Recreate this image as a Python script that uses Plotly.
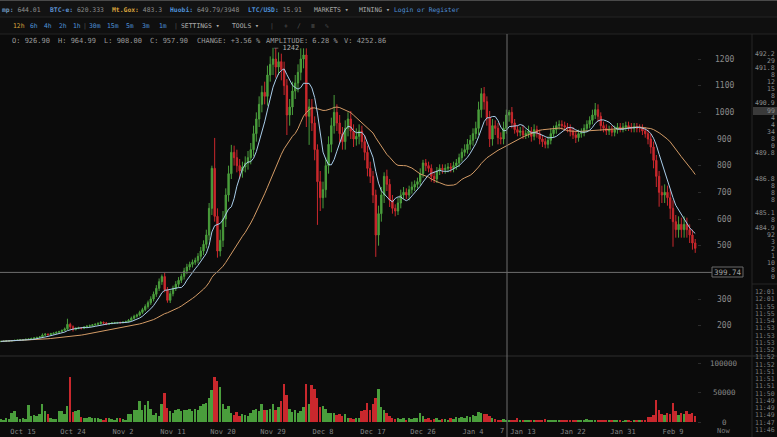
import plotly.graph_objects as go
import pandas as pd

# ---------------- data (Mt.Gox BTC/USD, 12h candles) ----------------
START = "2013-10-11 00:00"
OPEN_FIRST = 140

CLOSE = [
    141, 142, 143, 143, 144, 145, 146, 147, 147, 149,
    150, 152, 154, 156, 158, 165, 168, 166, 170, 172,
    175, 178, 182, 188, 205, 196, 186, 190, 192, 190,
    195, 198, 200, 203, 205, 208, 212, 210, 206, 208,
    210, 211, 212, 211, 213, 215, 220, 228, 235, 240,
    250, 260, 272, 286, 300, 318, 340, 365, 384, 335,
    295, 320, 340, 355, 370, 385, 405, 420, 430, 438,
    445, 460, 480, 505, 540, 640, 790, 610, 480, 520,
    600, 690, 770, 850, 830, 800, 780, 795, 810, 830,
    860, 920, 975, 1030, 1075, 1060, 1140, 1180, 1200, 1170,
    1190, 1160, 1100, 990, 1020, 1080, 1110, 1150, 1200, 1215,
    985, 1020, 960, 860, 740, 680, 710, 800, 880, 950,
    1000, 960, 920, 890, 940, 975, 930, 900, 910, 930,
    890, 850, 790, 760, 690, 540, 620, 690, 760, 730,
    670, 640, 630, 660, 690, 700, 690, 710, 720, 730,
    740, 770, 810, 800, 790, 760, 750, 780, 790, 785,
    790, 795, 790, 800, 810, 830, 850, 860, 880, 895,
    920, 940, 1010, 1070, 1040, 980, 900, 950, 940, 905,
    900, 940, 990, 1000, 960, 935, 925, 930, 915, 920,
    930, 910, 935, 920, 900, 890, 880, 895, 920, 935,
    950, 955, 950, 945, 940, 930, 915, 905, 920, 925,
    940, 955, 970, 990, 1010, 985, 950, 940, 930, 935,
    925, 935, 945, 940, 945, 950, 945, 940, 945, 940,
    940, 930, 920, 900, 870, 820, 760, 700, 690, 700,
    680, 640, 590, 560, 580, 560, 580, 560, 540, 510, 490,
]

WICK_UP = [
    2, 1, 2, 1, 2, 2, 1, 2, 2, 2,
    2, 3, 2, 2, 3, 6, 4, 3, 3, 2,
    3, 3, 4, 5, 21, 6, 5, 4, 4, 3,
    3, 3, 4, 3, 4, 5, 5, 4, 4, 3,
    3, 3, 2, 3, 3, 4, 5, 6, 6, 5,
    6, 7, 8, 8, 10, 10, 12, 12, 8, 15,
    10, 12, 10, 12, 12, 10, 12, 12, 10, 10,
    10, 12, 15, 15, 20, 20, 10, 114, 30, 40,
    30, 25, 30, 28, 25, 30, 25, 20, 25, 25,
    25, 30, 25, 30, 25, 40, 35, 30, 42, 40,
    35, 30, 30, 25, 30, 35, 30, 30, 40, 25,
    25, 30, 30, 25, 20, 40, 30, 30, 30, 30,
    65, 30, 30, 25, 30, 25, 30, 25, 30, 25,
    20, 25, 25, 25, 20, 20, 30, 30, 15, 25,
    20, 20, 15, 20, 20, 20, 15, 15, 20, 15,
    15, 20, 12, 15, 15, 15, 20, 15, 15, 15,
    15, 15, 15, 15, 15, 15, 15, 20, 20, 20,
    20, 25, 30, 21, 25, 20, 25, 25, 20, 20,
    20, 25, 20, 9, 20, 15, 15, 15, 20, 15,
    20, 15, 20, 15, 15, 15, 15, 15, 20, 15,
    15, 15, 15, 15, 15, 15, 15, 15, 15, 15,
    15, 15, 15, 20, 25, 20, 15, 15, 15, 15,
    15, 15, 15, 15, 15, 15, 15, 15, 15, 15,
    15, 15, 15, 15, 20, 20, 20, 20, 25, 30,
    25, 30, 30, 25, 30, 25, 30, 25, 20, 20, 15,
]

WICK_DN = [
    1, 2, 1, 2, 1, 1, 2, 1, 2, 1,
    2, 2, 1, 2, 2, 3, 4, 3, 2, 3,
    3, 2, 3, 3, 4, 10, 8, 4, 3, 4,
    3, 4, 3, 4, 3, 3, 4, 5, 4, 3,
    3, 2, 3, 3, 2, 3, 3, 4, 5, 5,
    5, 6, 6, 8, 8, 9, 10, 10, 12, 10,
    9, 10, 10, 10, 12, 10, 12, 12, 12, 12,
    10, 12, 12, 15, 15, 20, 25, 20, 25, 20,
    25, 30, 25, 20, 30, 25, 30, 25, 20, 25,
    25, 25, 30, 30, 30, 30, 35, 25, 40, 40,
    30, 40, 35, 75, 40, 30, 30, 35, 30, 35,
    40, 107, 30, 40, 162, 50, 40, 30, 30, 30,
    30, 30, 35, 30, 30, 30, 30, 30, 25, 30,
    25, 30, 30, 25, 30, 82, 40, 30, 30, 25,
    25, 20, 20, 15, 20, 15, 15, 20, 15, 15,
    15, 15, 15, 20, 15, 20, 15, 15, 15, 15,
    15, 15, 15, 15, 15, 15, 15, 15, 15, 20,
    20, 20, 25, 30, 30, 30, 30, 25, 25, 25,
    20, 20, 20, 25, 20, 15, 15, 15, 15, 15,
    15, 20, 15, 15, 20, 20, 15, 15, 15, 15,
    15, 15, 15, 15, 15, 20, 15, 20, 15, 15,
    15, 15, 15, 15, 15, 20, 20, 15, 15, 15,
    15, 15, 15, 15, 15, 15, 15, 15, 15, 15,
    15, 15, 15, 20, 25, 30, 40, 54, 30, 30,
    30, 40, 94, 30, 30, 30, 30, 30, 30, 25, 17,
]

VOLUME = [
    5000, 4000, 6000, 5000, 16000, 19000, 8000, 5000, 6000, 5000,
    29000, 10000, 12000, 11000, 13000, 30000, 18000, 14000, 6000, 5000,
    5000, 19000, 18000, 13000, 27000, 76000, 17000, 19000, 21000, 8000,
    6000, 7000, 8000, 6000, 7000, 6000, 5000, 4000, 7000, 6000,
    5000, 4000, 6000, 7000, 5000, 4000, 13000, 14000, 21000, 20000,
    35000, 20000, 28000, 35000, 22000, 12000, 15000, 10000, 30000, 49000,
    24000, 18000, 15000, 20000, 22000, 19000, 21000, 20000, 22000, 19000,
    22000, 20000, 27000, 30000, 33000, 40000, 55000, 76000, 70000, 60000,
    30000, 22000, 27000, 16000, 12000, 17000, 10000, 14000, 12000, 11000,
    15000, 20000, 22000, 19000, 30000, 21000, 20000, 22000, 30000, 20000,
    25000, 35000, 64000, 45000, 22000, 17000, 20000, 15000, 18000, 25000,
    64000, 30000, 62000, 56000, 40000, 25000, 27000, 22000, 15000, 16000,
    15000, 12000, 14000, 10000, 13000, 7000, 6000, 5000, 7000, 6000,
    18000, 20000, 33000, 20000, 30000, 40000, 56000, 25000, 20000, 15000,
    10000, 6000, 5000, 7000, 5000, 6000, 4000, 6000, 5000, 7000,
    6000, 15000, 10000, 5000, 6000, 4000, 5000, 6000, 4000, 5000,
    5000, 4000, 6000, 5000, 8000, 6000, 9000, 7000, 10000, 8000,
    12000, 10000, 17000, 15000, 13000, 14000, 10000, 6000, 5000, 4000,
    4000, 5000, 4000, 3000, 4000, 3000, 6000, 3000, 2000, 4000,
    3000, 2000, 4000, 3000, 2000, 3000, 5000, 3000, 2000, 3000,
    3000, 2000, 3000, 4000, 2000, 3000, 2000, 3000, 4000, 3000,
    3000, 5000, 4000, 3000, 2000, 3000, 2000, 3000, 2000, 3000,
    2000, 2000, 3000, 2000, 1500, 2000, 2000, 1500, 2000, 2000,
    2000, 3000, 4000, 9000, 8000, 12000, 37000, 20000, 14000, 12000,
    15000, 13000, 32000, 19000, 12000, 16000, 14000, 18000, 13000, 15000, 10000,
]

PRICE_TICKS = [200, 300, 500, 600, 700, 800, 900, 1000, 1100, 1200]
VOLUME_TICKS = [0, 50000, 100000]
CROSSHAIR_PRICE = 399.74
MA_FAST, MA_SLOW = 7, 30

TICKER_ROW = [("mp:", "644.01", "#6f95bd"), ("BTC-e:", "620.333", "#5b8fcf"),
              ("Mt.Gox:", "483.3", "#d9a23c"), ("Huobi:", "649.79/3948", "#4d8fd6"),
              ("LTC/USD:", "15.91", "#4d8fd6")]
TICKER_X = [0, 48, 110, 168, 246]
MENU_ROW = [("MARKETS ▾", 312, "#a8a8a8"), ("MINING ▾", 357, "#a8a8a8"),
            ("Login or Register", 392, "#4f8fd6")]
PERIODS = ["12h", "6h", "4h", "2h", "1h", "|", "30m", "15m", "5m", "3m", "1m", "|",
           "SETTINGS ▾", "TOOLS ▾", "|", "+", "/", "≡", "✎"]
PERIOD_X = [11, 28, 42, 57, 71, 81, 87, 105, 124, 140, 157, 172, 179, 230, 268, 282, 295, 309, 323]
OHLC_INFO = ["O: 926.90", "H: 964.99", "L: 908.00", "C: 957.90",
             "CHANGE: +3.56 %", "AMPLITUDE: 6.28 %", "V: 4252.86"]
OHLC_X = [10, 56, 102, 148, 195, 264, 342]
BOOK = [("492.2", 54), ("29", 61), ("491.8", 68), ("8", 75), ("12", 82), ("15", 89),
        ("8", 96), ("490.9", 103), ("99", 111), ("4", 118), ("4", 125), ("34", 132),
        ("8", 139), ("0", 146), ("489.8", 153), ("486.8", 179), ("8", 186), ("8", 193),
        ("8", 200), ("485.1", 213), ("8", 220), ("484.9", 228), ("92", 235), ("3", 242),
        ("2", 249), ("1", 256), ("10", 263), ("8", 270), ("0", 277)]
TRADE_TIMES = ["12:01", "12:01", "11:55", "11:55", "11:54", "11:53", "11:53", "11:53",
               "11:52", "11:52", "11:52", "11:51", "11:51", "11:51", "11:50", "11:49",
               "11:49", "11:49", "11:47", "11:46"]

# ---------------- styling ----------------
W, H = 777, 437
ML, MR, MT, MB = 0, 80, 35, 15
PW, PH = W - ML - MR, H - MT - MB
BG = "#0b0b0b"
GREEN, RED = "#4a9e3c", "#c9282d"
BLUE_MA, ORANGE_MA = "#a9cdea", "#d39b66"
MONO = "DejaVu Sans Mono"
GREY = "#8c8c8c"
AXIS_LABEL_X = 724


def px(x):
    return (x - ML) / PW


def py(y):
    return (H - MB - y) / PH


dates = pd.date_range(START, periods=len(CLOSE), freq="12h")
opens = [OPEN_FIRST] + CLOSE[:-1]
highs = [max(o, c) + u for o, c, u in zip(opens, CLOSE, WICK_UP)]
lows = [min(o, c) - d for o, c, d in zip(opens, CLOSE, WICK_DN)]
bar_colors = [GREEN if c >= o else RED for o, c in zip(opens, CLOSE)]
closes = pd.Series(CLOSE, dtype=float)
ma_fast = closes.rolling(MA_FAST, min_periods=1).mean()
ma_slow = closes.rolling(MA_SLOW, min_periods=1).mean()

px_per_day = 650 / 117.0
x0 = pd.Timestamp("2013-10-15") - pd.Timedelta(days=23 / px_per_day)
x1 = x0 + pd.Timedelta(days=PW / px_per_day)

fig = go.Figure()
fig.add_trace(go.Candlestick(
    x=dates, open=opens, high=highs, low=lows, close=CLOSE,
    increasing=dict(line=dict(color=GREEN, width=1), fillcolor=GREEN),
    decreasing=dict(line=dict(color=RED, width=1), fillcolor=RED),
    whiskerwidth=0, showlegend=False, xaxis="x", yaxis="y"))
fig.add_trace(go.Scatter(x=dates, y=ma_slow, mode="lines", line=dict(color=ORANGE_MA, width=1),
                         showlegend=False, xaxis="x", yaxis="y"))
fig.add_trace(go.Scatter(x=dates, y=ma_fast, mode="lines", line=dict(color=BLUE_MA, width=1),
                         showlegend=False, xaxis="x", yaxis="y"))
fig.add_trace(go.Bar(x=dates, y=VOLUME, marker=dict(color=bar_colors, line=dict(width=0)),
                     width=0.7 * 12 * 3600 * 1000, showlegend=False, xaxis="x2", yaxis="y2"))

axis_common = dict(showgrid=False, zeroline=False, showline=False, fixedrange=True)
fig.update_layout(
    width=W, height=H, autosize=False,
    margin=dict(l=ML, r=MR, t=MT, b=MB, pad=0),
    paper_bgcolor=BG, plot_bgcolor=BG,
    font=dict(family=MONO, color=GREY),
    bargap=0,
    xaxis=dict(domain=[0, 1], anchor="y", range=[x0, x1], type="date", matches="x2",
               showticklabels=False, ticks="", rangeslider=dict(visible=False), **axis_common),
    xaxis2=dict(domain=[0, 1], anchor="y2", range=[x0, x1], type="date",
                tick0="2013-10-15", dtick=9 * 86400000, tickformat="%b %-d",
                ticks="outside", ticklen=3, tickcolor=BG,
                tickfont=dict(family=MONO, size=7, color="#858585"), **axis_common),
    yaxis=dict(domain=[py(355), 1], anchor="x", side="right", range=[90, 1290],
               tickvals=PRICE_TICKS, showticklabels=False,
               ticks="outside", ticklen=3, tickcolor="#2c2c2c", **axis_common),
    yaxis2=dict(domain=[0, py(357)], anchor="x2", side="right", range=[0, 110200],
                tickvals=VOLUME_TICKS, showticklabels=False,
                ticks="outside", ticklen=3, tickcolor="#2c2c2c", **axis_common),
)

shapes = [
    # header bars
    dict(type="rect", xref="paper", yref="paper", x0=px(0), x1=px(W), y0=py(17), y1=py(0),
         fillcolor="#131313", line=dict(width=0), layer="below"),
    dict(type="rect", xref="paper", yref="paper", x0=px(0), x1=px(W), y0=py(34), y1=py(17),
         fillcolor="#0f0f0f", line=dict(width=0), layer="below"),
    dict(type="line", xref="paper", yref="paper", x0=px(0), x1=px(W), y0=py(0.5), y1=py(0.5),
         line=dict(color="#4a4a4a", width=1)),
    dict(type="line", xref="paper", yref="paper", x0=px(0), x1=px(W), y0=py(17), y1=py(17),
         line=dict(color="#242424", width=1)),
    dict(type="line", xref="paper", yref="paper", x0=px(0), x1=px(W), y0=py(34), y1=py(34),
         line=dict(color="#242424", width=1)),
    # pane separator
    dict(type="line", xref="paper", yref="paper", x0=px(0), x1=px(W), y0=py(356), y1=py(356),
         line=dict(color="#2e2e2e", width=1)),
    # right panel separators
    dict(type="line", xref="paper", yref="paper", x0=px(752), x1=px(752), y0=py(H), y1=py(34),
         line=dict(color="#262626", width=1)),
    dict(type="line", xref="paper", yref="paper", x0=px(752), x1=px(W), y0=py(284), y1=py(284),
         line=dict(color="#262626", width=1)),
    dict(type="rect", xref="paper", yref="paper", x0=px(753), x1=px(W), y0=py(115), y1=py(107),
         fillcolor="#3a3a3a", line=dict(width=0), layer="below"),
    # crosshair
    dict(type="line", xref="paper", yref="paper", x0=px(507), x1=px(507), y0=py(H), y1=py(34),
         line=dict(color="#6e6e6e", width=1)),
    dict(type="line", xref="paper", yref="y", x0=px(0), x1=px(712), y0=CROSSHAIR_PRICE,
         y1=CROSSHAIR_PRICE, line=dict(color="#6e6e6e", width=1)),
    dict(type="rect", xref="paper", yref="paper", x0=px(712), x1=px(743), y0=py(277), y1=py(267),
         fillcolor=BG, line=dict(color="#6a6a6a", width=1)),
]

ann = []


def label(x, y, text, color=GREY, size=6.4, anchor="left"):
    ann.append(dict(xref="paper", yref="paper", x=px(x), y=py(y), text=text, showarrow=False,
                    xanchor=anchor, yanchor="middle", font=dict(family=MONO, size=size, color=color)))


# right-hand axis labels, placed on the axes' own scales
for v in PRICE_TICKS:
    ann.append(dict(xref="paper", yref="y", x=px(AXIS_LABEL_X), y=v, text=str(v), showarrow=False,
                    xanchor="center", yanchor="middle",
                    font=dict(family=MONO, size=8, color="#8a8a8a")))
for v in VOLUME_TICKS:
    ann.append(dict(xref="paper", yref="y2", x=px(AXIS_LABEL_X), y=v, text=str(v), showarrow=False,
                    xanchor="center", yanchor="middle",
                    font=dict(family=MONO, size=7.5, color="#8a8a8a")))

for (lab, val, col), x in zip(TICKER_ROW, TICKER_X):
    label(x, 9.5, f"<span style='color:{col}'><b>{lab}</b></span> {val}")
for text, x, col in MENU_ROW:
    label(x, 9.5, text, col)
for text, x in zip(PERIODS, PERIOD_X):
    if text == "12h":
        col = "#d9a23c"
    elif text in ("SETTINGS ▾", "TOOLS ▾"):
        col = "#b0b0b0"
    elif text in ("|", "+", "/", "≡", "✎"):
        col = "#555555"
    else:
        col = "#4d8fd6"
    label(x, 26, text, col)
for text, x in zip(OHLC_INFO, OHLC_X):
    label(x, 41, text, "#9a9a9a", 7)
for text, y in BOOK:
    label(777, y, text, "#8c8c8c", 6.5, "right")
for i, text in enumerate(TRADE_TIMES):
    label(777, 292 + i * 7.26, text, "#7c7c7c", 6.5, "right")
label(723, 431, "Now", "#7a7a7a", 7, "center")
label(506, 431, "7", "#8a8a8a", 7, "right")

peak_i = max(range(len(highs)), key=lambda k: highs[k])
ann.append(dict(x=dates[peak_i], y=highs[peak_i], xref="x", yref="y", text=f"– {highs[peak_i]:.0f}",
                showarrow=False, xanchor="left", yanchor="middle", xshift=-1,
                font=dict(family=MONO, size=7, color="#b0b0b0")))
ann.append(dict(x=px(727.5), y=CROSSHAIR_PRICE, xref="paper", yref="y", text=f"{CROSSHAIR_PRICE:.2f}",
                showarrow=False, xanchor="center", yanchor="middle",
                font=dict(family=MONO, size=7.5, color="#a0a0a0")))

fig.update_layout(shapes=shapes, annotations=ann)
fig.write_html("out.html", config={"displayModeBar": False},
               post_script="document.body.style.margin='0';document.body.style.overflow='hidden';")
